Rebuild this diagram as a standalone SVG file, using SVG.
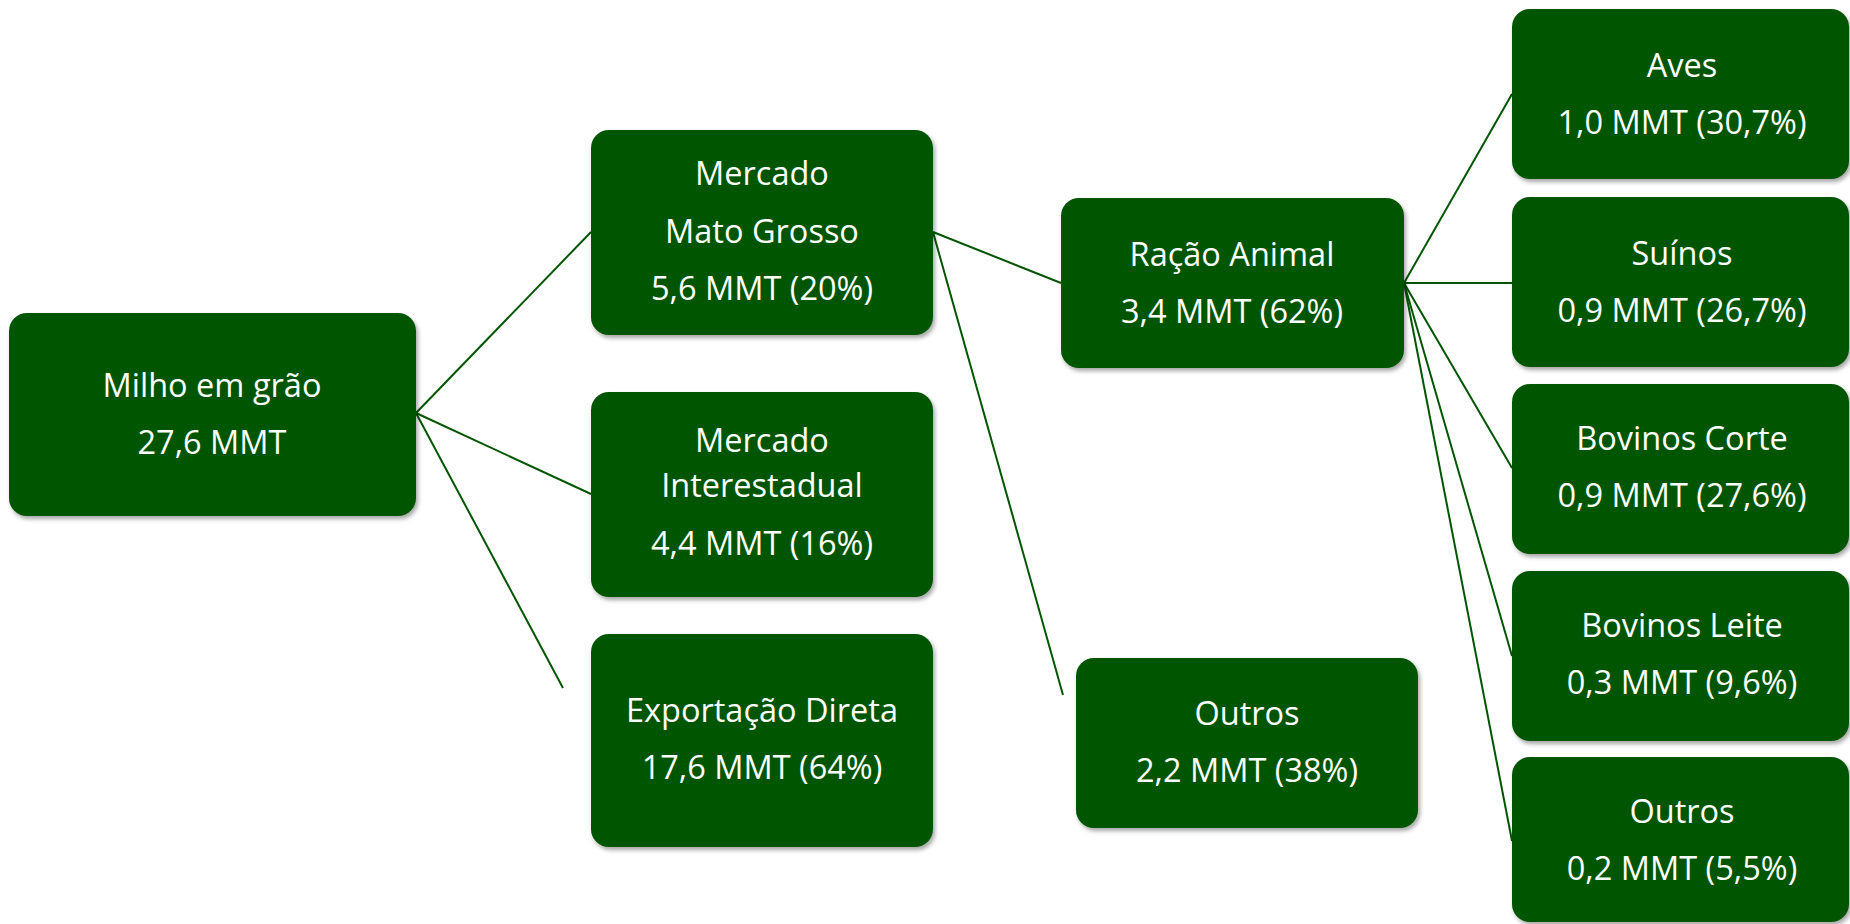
<svg xmlns="http://www.w3.org/2000/svg" width="1850" height="924" viewBox="0 0 1850 924">
<style>
.box{fill:#025502;filter:url(#sh)}
.t{font-family:"Open Sans","Liberation Sans",sans-serif;font-size:32.5px;fill:#ffffff;text-anchor:middle}
.c line{stroke:#025502;stroke-width:2;fill:none}
</style>
<defs>
<filter id="sh" x="-10%" y="-10%" width="125%" height="130%">
<feDropShadow dx="2" dy="3" stdDeviation="2" flood-color="#000000" flood-opacity="0.35"/>
</filter>
</defs>
<rect width="1850" height="924" fill="#ffffff"/>
<g id="connectors" class="c">
<line x1="416" y1="413" x2="591" y2="232"/>
<line x1="416" y1="413" x2="591" y2="494"/>
<line x1="416" y1="413" x2="563" y2="688"/>
<line x1="933" y1="232" x2="1061" y2="283"/>
<line x1="933" y1="232" x2="1063" y2="695"/>
<line x1="1404" y1="283" x2="1512" y2="94"/>
<line x1="1404" y1="283" x2="1512" y2="283"/>
<line x1="1404" y1="283" x2="1512" y2="468"/>
<line x1="1404" y1="283" x2="1512" y2="656"/>
<line x1="1404" y1="283" x2="1512" y2="841"/>
</g>
<g id="milho">
<rect class="box" x="9" y="313" width="407" height="203" rx="18"/>
<text class="t" x="212" y="397">Milho em grão</text>
<text class="t" x="212" y="454">27,6 MMT</text>
</g>
<g id="mato-grosso">
<rect class="box" x="591" y="130" width="342" height="205" rx="18"/>
<text class="t" x="762" y="185">Mercado</text>
<text class="t" x="762" y="243">Mato Grosso</text>
<text class="t" x="762" y="300">5,6 MMT (20%)</text>
</g>
<g id="interestadual">
<rect class="box" x="591" y="392" width="342" height="205" rx="18"/>
<text class="t" x="762" y="452">Mercado</text>
<text class="t" x="762" y="497">Interestadual</text>
<text class="t" x="762" y="555">4,4 MMT (16%)</text>
</g>
<g id="exportacao">
<rect class="box" x="591" y="634" width="342" height="213" rx="18"/>
<text class="t" x="762" y="722">Exportação Direta</text>
<text class="t" x="762" y="779">17,6 MMT (64%)</text>
</g>
<g id="racao">
<rect class="box" x="1061" y="198" width="343" height="170" rx="18"/>
<text class="t" x="1232" y="266">Ração Animal</text>
<text class="t" x="1232" y="323">3,4 MMT (62%)</text>
</g>
<g id="outros-mt">
<rect class="box" x="1076" y="658" width="342" height="170" rx="18"/>
<text class="t" x="1247" y="725">Outros</text>
<text class="t" x="1247" y="782">2,2 MMT (38%)</text>
</g>
<g id="aves">
<rect class="box" x="1512" y="9" width="337" height="170" rx="18"/>
<text class="t" x="1682" y="77">Aves</text>
<text class="t" x="1682" y="134">1,0 MMT (30,7%)</text>
</g>
<g id="suinos">
<rect class="box" x="1512" y="197" width="337" height="170" rx="18"/>
<text class="t" x="1682" y="265">Suínos</text>
<text class="t" x="1682" y="322">0,9 MMT (26,7%)</text>
</g>
<g id="bovinos-corte">
<rect class="box" x="1512" y="384" width="337" height="170" rx="18"/>
<text class="t" x="1682" y="450">Bovinos Corte</text>
<text class="t" x="1682" y="507">0,9 MMT (27,6%)</text>
</g>
<g id="bovinos-leite">
<rect class="box" x="1512" y="571" width="337" height="170" rx="18"/>
<text class="t" x="1682" y="637">Bovinos Leite</text>
<text class="t" x="1682" y="694">0,3 MMT (9,6%)</text>
</g>
<g id="outros-racao">
<rect class="box" x="1512" y="757" width="337" height="165" rx="18"/>
<text class="t" x="1682" y="823">Outros</text>
<text class="t" x="1682" y="880">0,2 MMT (5,5%)</text>
</g>
</svg>
